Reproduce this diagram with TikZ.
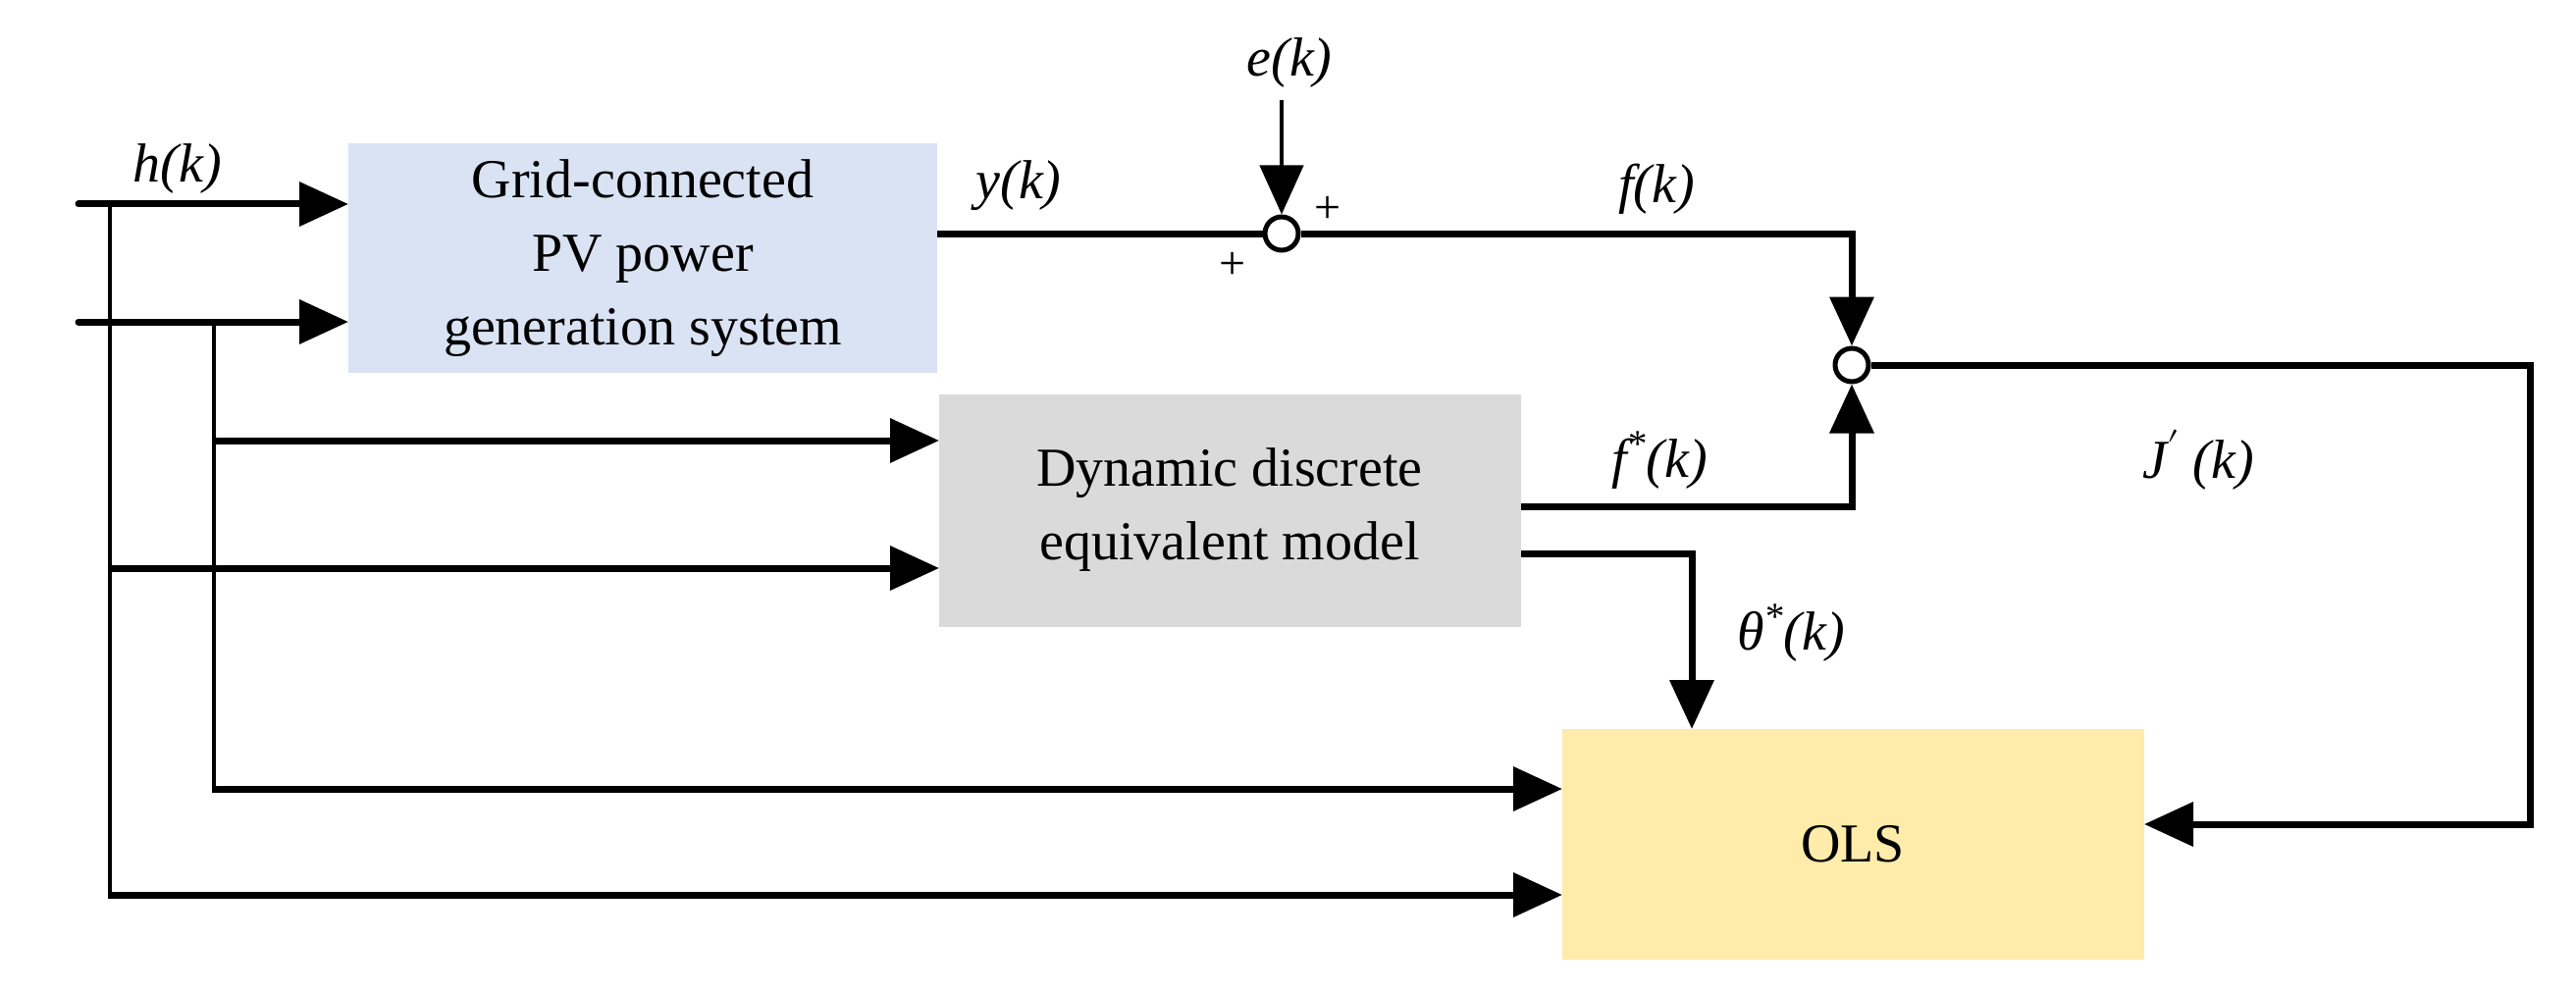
\documentclass[tikz,border=0pt]{standalone}
\usepackage{fontspec}
\setmainfont{Liberation Serif}
\usepackage{unicode-math}
\setmathfont{Latin Modern Math}
\setmathfont[range=it]{Liberation Serif Italic}
\usetikzlibrary{arrows.meta}
\begin{document}
\begin{tikzpicture}[x=1pt,y=-1pt,
  blk/.style={draw=none,minimum width=#1,inner sep=0pt,align=center,font=\fontsize{56}{75}\selectfont},
  thick line/.style={line width=7pt},
  thin line/.style={line width=4.5pt},
  arr/.style={-{Triangle[length=50pt,width=44pt]}},
  lbl/.style={font=\fontsize{56}{60}\selectfont\itshape,inner sep=0pt},
  sum/.style={circle,draw,line width=5pt,fill=white,minimum size=34pt,inner sep=0pt}]
\useasboundingbox (0,0) rectangle (2625,1011);
\fill[blue!15!white,fill={rgb,255:red,218;green,227;blue,243}] (355,146) rectangle (955,380);
\node[blk=600pt] (pv) at (655,263) {Grid-connected\\PV power\\generation system};
\fill[fill={rgb,255:red,218;green,218;blue,218}] (957,402) rectangle (1550,639);
\node[blk=593pt] (dm) at (1253,520) {Dynamic discrete\\equivalent model};
\fill[fill={rgb,255:red,255;green,235;blue,170}] (1592,743) rectangle (2185,978);
\node[blk=593pt] (ols) at (1888,860) {OLS};
\node[sum] (s1) at (1306,238) {};
\node[sum] (s2) at (1887,372) {};
\coordinate (in1) at (80,208);
\coordinate (in2) at (80,328);
\coordinate (v1) at (112,208);
\coordinate (v2) at (218,328);
\coordinate (et) at (1306,102);
% inputs
\draw[thick line,arr,line cap=round] (in1) -- (355,208);
\draw[thick line,arr,line cap=round] (in2) -- (355,328);
\draw[thin line] (v1) -- (112,912);
\draw[thin line] (v2) -- (218,804);
\draw[thick line,arr] (216,449) -- (957,449);
\draw[thick line,arr] (110,579) -- (957,579);
\draw[thick line,arr] (216,804) -- (1592,804);
\draw[thick line,arr] (110,912) -- (1592,912);
% signals
\draw[thick line] (955,238) -- (s1.west);
\draw[thin line,arr] (et) -- (s1.north);
\draw[thick line,arr] (s1.east) -| (s2.north);
\draw[thick line,arr] (1550,516) -| (s2.south);
\draw[thick line,arr] (1550,564) -| (1724,743);
\draw[thick line,arr] (s2.east) -| (2578,840) -- (2185,840);
% labels
\node[lbl] at (181,172) {h(k)};
\node[lbl] at (1038,189) {y(k)};
\node[lbl] at (1314,64) {e(k)};
\node[lbl] at (1688,193) {f(k)};
\node[lbl] at (1691,469) {f\textsuperscript{*}(k)};
\node[lbl] at (2240,469) {J\textsuperscript{$\prime$} (k)};
\node[lbl] at (1825,645) {$\theta$\textsuperscript{*}(k)};
\node[font=\fontsize{48}{50}\selectfont] at (1353,214) {+};
\node[font=\fontsize{48}{50}\selectfont] at (1256,271) {+};
\end{tikzpicture}
\end{document}
